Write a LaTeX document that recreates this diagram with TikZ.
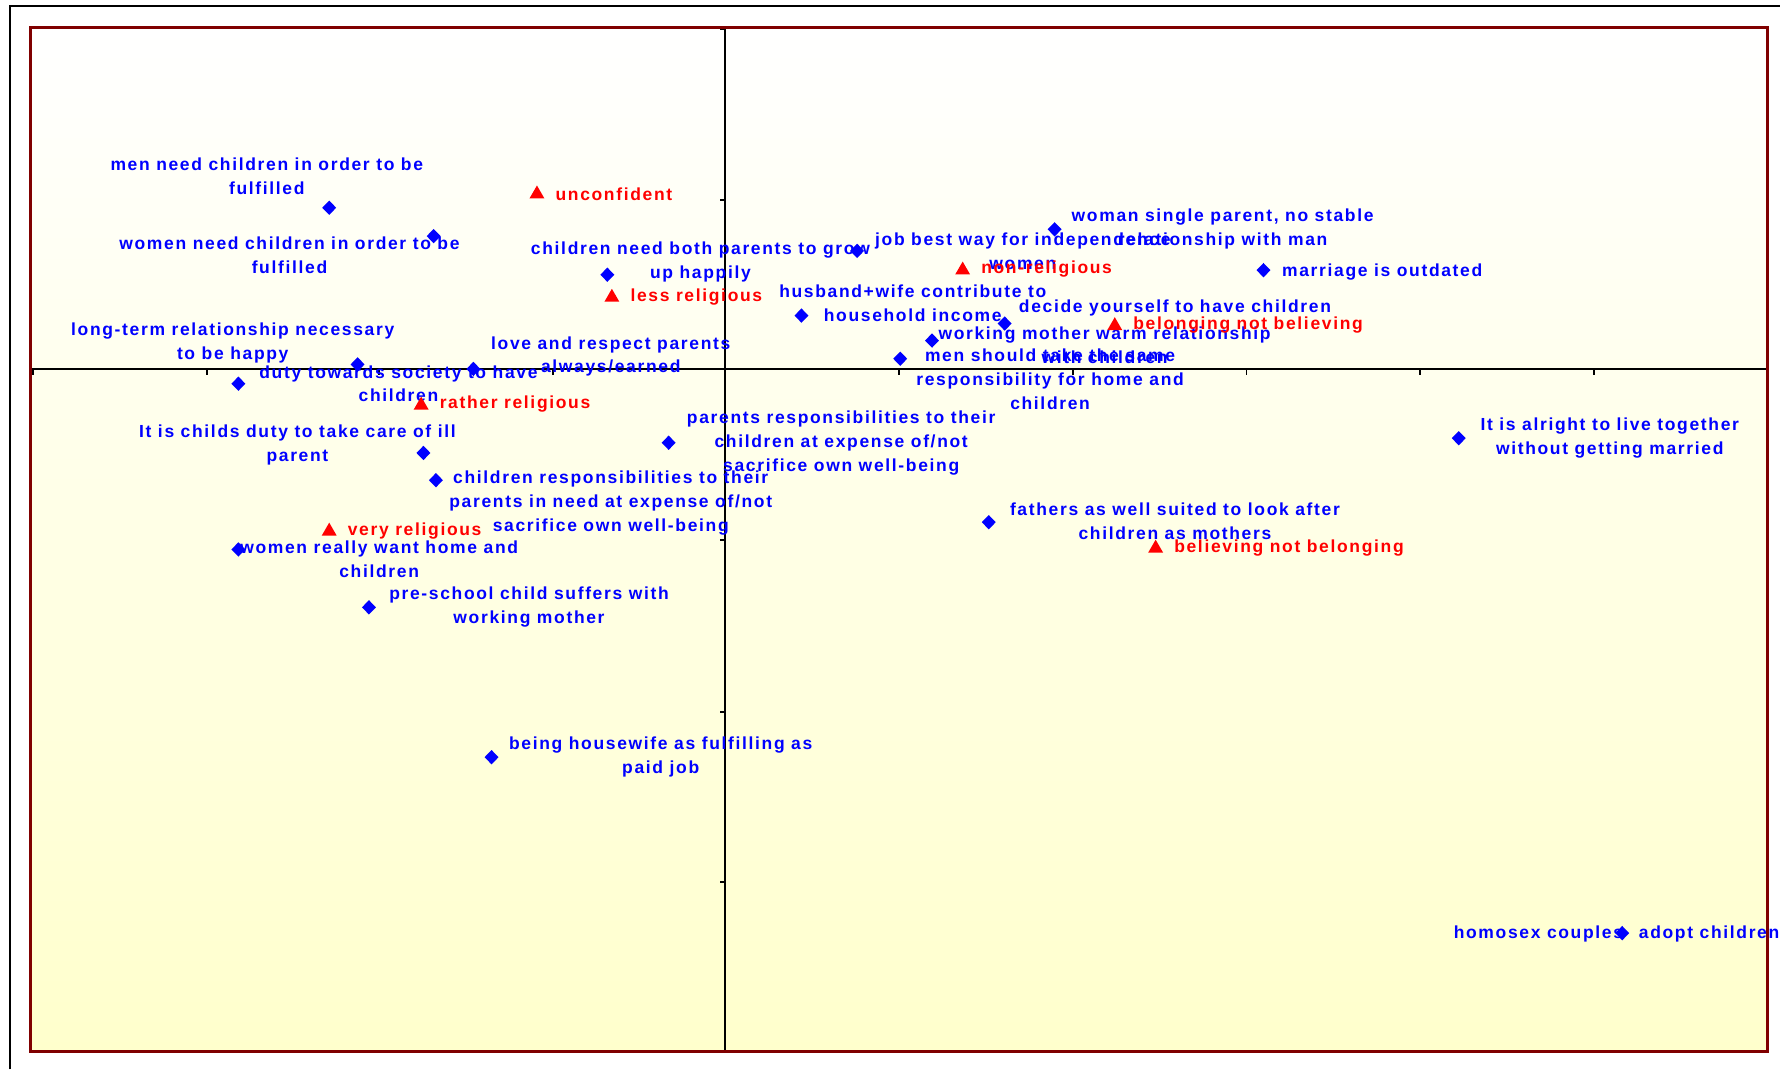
\documentclass[tikz,border=0pt]{standalone}
\usepackage{fontspec}
\setmainfont{Liberation Sans}
\newfontfamily\lblfont[LetterSpace=9.5]{Liberation Sans}
\usetikzlibrary{shapes.geometric}
\definecolor{framered}{RGB}{128,0,0}
\definecolor{plotyellow}{RGB}{255,255,204}
\definecolor{mblue}{RGB}{0,0,255}
\definecolor{mred}{RGB}{255,0,0}
\begin{document}
\begin{tikzpicture}[x=0.5pt,y=-0.5pt,
  dia/.style={diamond,fill=mblue,inner sep=0pt,minimum width=6.3pt,minimum height=6.5pt},
  tri/.style={regular polygon,regular polygon sides=3,fill=mred,inner sep=0pt,minimum size=7.6pt},
  lbl/.style={font=\lblfont\bfseries\fontsize{7.7}{10.5}\selectfont,text=mblue,align=center,inner sep=0pt},
  rlbl/.style={font=\lblfont\bfseries\fontsize{7.7}{10.5}\selectfont,text=mred,anchor=west,inner sep=0pt},
  axis/.style={black,line width=0.85pt}]
\useasboundingbox (0,0) rectangle (1568,942);
\fill[white] (0,0) rectangle (1568,942);
\draw[black,line width=1pt] (9,942) -- (9,5) -- (1568,5);
\shade[top color=white,bottom color=plotyellow] (27,24) rectangle (1557,926);
% axes
\coordinate (hl) at (27,325); \coordinate (hr) at (1557,325);
\coordinate (vt) at (639,24); \coordinate (vb) at (639,926);
\draw[axis] (hl) -- (hr);
\draw[axis] (vt) -- (vb);
\foreach \x in {29,182,334,487,792,945,1098,1251,1404} \draw[axis] (\x,325) -- (\x,330);
\foreach \y in {26,176,476,627,777} \draw[axis] (639,\y) -- (634,\y);
\draw[framered,line width=1.4pt] (27,24) rectangle (1557,926);
% blue points
\node[dia] (p1) at (290,183) {};
\node[dia] (p2) at (382,208) {};
\node[dia] (p3) at (535,242) {};
\node[dia] (p4) at (755,221) {};
\node[dia] (p5) at (929,202) {};
\node[dia] (p6) at (1113,238) {};
\node[dia] (p7) at (706,278) {};
\node[dia] (p8) at (885,285) {};
\node[dia] (p9) at (821,300) {};
\node[dia] (p10) at (793,316) {};
\node[dia] (p11) at (210,338) {};
\node[dia] (p12) at (315,321) {};
\node[dia] (p13) at (417,325) {};
\node[dia] (p14) at (373,399) {};
\node[dia] (p15) at (384,423) {};
\node[dia] (p16) at (589,390) {};
\node[dia] (p17) at (210,484) {};
\node[dia] (p18) at (325,535) {};
\node[dia] (p19) at (433,667) {};
\node[dia] (p20) at (871,460) {};
\node[dia] (p21) at (1285,386) {};
\node[dia] (p22) at (1429,822) {};
% blue labels
\node[lbl] (l1) at (235,155) {men need children in order to be\\fulfilled};
\node[lbl] (l2) at (255,225) {women need children in order to be\\fulfilled};
\node[lbl] (l3) at (617,231) {children need both parents to grow\\up happily};
\node[lbl] (l4) at (901,221) {job best way for independence\\women};
\node[lbl] (l5) at (1077,202) {woman single parent, no stable\\relationship with man};
\node[lbl,anchor=west] (l6) at (1129,240) {marriage is outdated};
\node[lbl] (l7) at (804,267) {husband+wife contribute to\\household income};
\node[lbl] (l8) at (1035,271) {decide yourself to have children};
\node[lbl] (l9) at (973,304) {working mother warm relationship\\with children};
\node[lbl] (l10) at (925,334) {men should take the same\\responsibility for home and\\children};
\node[lbl] (l11) at (205,302) {long-term relationship necessary\\to be happy};
\node[lbl] (l12) at (351,338) {duty towards society to have\\children};
\node[lbl] (l13) at (538,314) {love and respect parents\\always/earned};
\node[lbl] (l14) at (262,392) {It is childs duty to take care of ill\\parent};
\node[lbl] (l15) at (538,443) {children responsibilities to their\\parents in need at expense of/not\\sacrifice own well-being};
\node[lbl] (l16) at (741,390) {parents responsibilities to their\\children at expense of/not\\sacrifice own well-being};
\node[lbl] (l17) at (334,493) {women really want home and\\children};
\node[lbl] (l18) at (466,535) {pre-school child suffers with\\working mother};
\node[lbl] (l19) at (582,667) {being housewife as fulfilling as\\paid job};
\node[lbl] (l20) at (1035,459) {fathers as well suited to look after\\children as mothers};
\node[lbl] (l21) at (1418,386) {It is alright to live together\\without getting married};
\node[lbl] (l22) at (1424,823) {homosex couples\hspace{7pt}adopt children};
% red points
\node[tri] (t1) at (473,171) {};
\node[tri] (t2) at (539,262) {};
\node[tri] (t3) at (848,238) {};
\node[tri] (t4) at (982,287) {};
\node[tri] (t5) at (371,357) {};
\node[tri] (t6) at (290,468) {};
\node[tri] (t7) at (1018,483) {};
\node[rlbl] (r1) at (489,171) {unconfident};
\node[rlbl] (r2) at (555,262) {less religious};
\node[rlbl] (r3) at (864,237) {non-religious};
\node[rlbl] (r4) at (998,286) {belonging not believing};
\node[rlbl] (r5) at (387,356) {rather religious};
\node[rlbl] (r6) at (306,468) {very religious};
\node[rlbl] (r7) at (1034,483) {believing not belonging};
\end{tikzpicture}
\end{document}
